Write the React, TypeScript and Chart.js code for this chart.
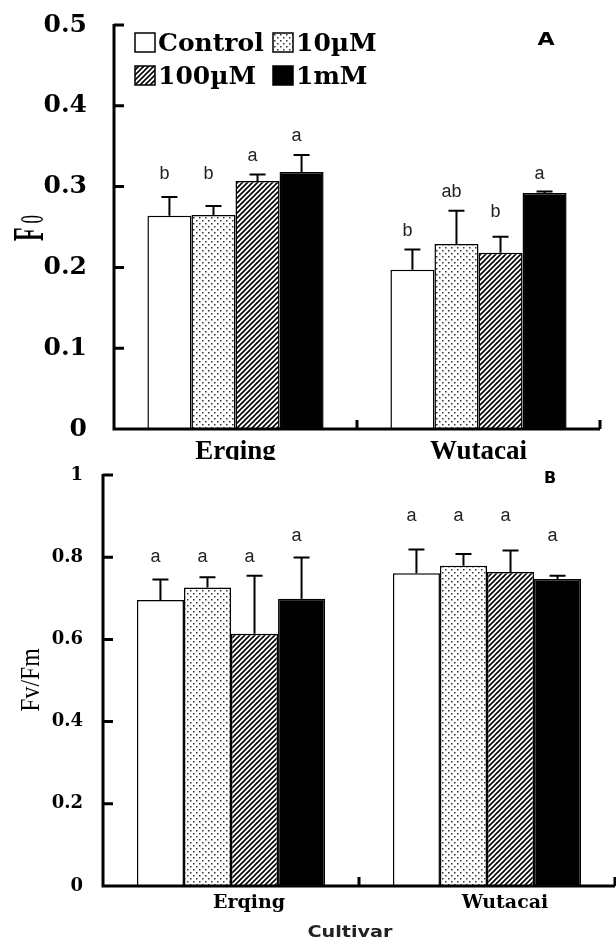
import React, { useEffect, useRef } from 'react';
import { Chart, registerables } from 'chart.js';

Chart.register(...registerables);

// ---------- data ----------
const cultivars = ['Erqing', 'Wutacai'];
const treatments = ['Control', '10µM', '100µM', '1mM'];

// Panel A: F0
const foControl = [0.264, 0.197];
const fo10uM = [0.265, 0.229];
const fo100uM = [0.307, 0.218];
const fo1mM = [0.318, 0.292];
const foErrControl = [0.023, 0.025];
const foErr10uM = [0.011, 0.041];
const foErr100uM = [0.008, 0.02];
const foErr1mM = [0.021, 0.002];
const foLetControl = ['b', 'b'];
const foLet10uM = ['b', 'ab'];
const foLet100uM = ['a', 'b'];
const foLet1mM = ['a', 'a'];
const foLetAtControl = [0.309, 0.239];
const foLetAt10uM = [0.309, 0.287];
const foLetAt100uM = [0.332, 0.262];
const foLetAt1mM = [0.356, 0.309];
const foTicks = ['0', '0.1', '0.2', '0.3', '0.4', '0.5'];

// Panel B: Fv/Fm
const fvControl = [0.696, 0.761];
const fv10uM = [0.726, 0.779];
const fv100uM = [0.614, 0.764];
const fv1mM = [0.699, 0.747];
const fvErrControl = [0.05, 0.058];
const fvErr10uM = [0.025, 0.029];
const fvErr100uM = [0.141, 0.052];
const fvErr1mM = [0.1, 0.008];
const fvLetControl = ['a', 'a'];
const fvLet10uM = ['a', 'a'];
const fvLet100uM = ['a', 'a'];
const fvLet1mM = ['a', 'a'];
const fvLetAtControl = [0.789, 0.889];
const fvLetAt10uM = [0.789, 0.889];
const fvLetAt100uM = [0.789, 0.889];
const fvLetAt1mM = [0.84, 0.84];
const fvTicks = ['0', '0.2', '0.4', '0.6', '0.8', '1'];

// ---------- helpers ----------
function makeDots(): CanvasPattern {
  const c = document.createElement('canvas');
  c.width = 6;
  c.height = 6;
  const g = c.getContext('2d')!;
  g.fillStyle = '#fff';
  g.fillRect(0, 0, 6, 6);
  g.fillStyle = '#333';
  g.fillRect(1, 1, 1.5, 1.5);
  g.fillRect(4, 4, 1.5, 1.5);
  return g.createPattern(c, 'repeat')!;
}

function makeHatch(): CanvasPattern {
  const c = document.createElement('canvas');
  c.width = 5;
  c.height = 5;
  const g = c.getContext('2d')!;
  g.fillStyle = '#fff';
  g.fillRect(0, 0, 5, 5);
  g.strokeStyle = '#000';
  g.lineWidth = 1.6;
  g.beginPath();
  g.moveTo(0, 5);
  g.lineTo(5, 0);
  g.moveTo(-1, 1);
  g.lineTo(1, -1);
  g.moveTo(4, 6);
  g.lineTo(6, 4);
  g.stroke();
  return g.createPattern(c, 'repeat')!;
}

function drawText(
  ctx: CanvasRenderingContext2D,
  s: string,
  x: number,
  y: number,
  font: string,
  align: CanvasTextAlign = 'left',
  sx = 1,
  rot = 0,
  color = '#000'
) {
  ctx.save();
  ctx.translate(x, y);
  if (rot) ctx.rotate(rot);
  ctx.scale(sx, 1);
  ctx.font = font;
  ctx.fillStyle = color;
  ctx.textAlign = align;
  ctx.textBaseline = 'alphabetic';
  ctx.fillText(s, 0, 0);
  ctx.restore();
}

function noPad(s: any) {
  s.paddingTop = 0;
  s.paddingBottom = 0;
  s.paddingLeft = 0;
  s.paddingRight = 0;
}

const barDecor = {
  id: 'barDecor',
  afterDatasetsDraw(chart: any) {
    const ctx: CanvasRenderingContext2D = chart.ctx;
    const xs = chart.scales.x;
    const ys = chart.scales.y;
    const area = chart.chartArea;
    const letterFont = '18px "Liberation Sans"';
    chart.data.datasets.forEach((ds: any, d: number) => {
      const meta = chart.getDatasetMeta(d);
      meta.data.forEach((el: any, i: number) => {
        const v = ds.data[i];
        const e = ds.errors[i];
        const yTop = ys.getPixelForValue(v + e);
        ctx.save();
        ctx.strokeStyle = '#000';
        ctx.lineWidth = 2;
        ctx.beginPath();
        ctx.moveTo(el.x, el.y);
        ctx.lineTo(el.x, yTop);
        ctx.moveTo(el.x - 8, yTop);
        ctx.lineTo(el.x + 8, yTop);
        ctx.stroke();
        ctx.restore();
        drawText(ctx, ds.letters[i], el.x - 5, ys.getPixelForValue(ds.letterAt[i]), letterFont, 'center', 1, 0, '#222');
      });
    });
    // axes
    ctx.save();
    ctx.strokeStyle = '#000';
    ctx.lineWidth = 3;
    ctx.beginPath();
    const yMaxPx = ys.getPixelForValue(ys.max);
    ctx.moveTo(area.left, yMaxPx - 1);
    ctx.lineTo(area.left, area.bottom);
    ctx.lineTo(area.right, area.bottom);
    ys.ticks.forEach((t: any) => {
      const py = ys.getPixelForValue(t.value);
      if (t.value === 0) return;
      ctx.moveTo(area.left, py);
      ctx.lineTo(area.left + 10, py);
    });
    const n = xs.ticks.length;
    for (let i = 0; i < n; i++) {
      const bx = i < n - 1 ? (xs.getPixelForTick(i) + xs.getPixelForTick(i + 1)) / 2 : area.right;
      ctx.moveTo(bx, area.bottom);
      ctx.lineTo(bx, area.bottom - 9);
    }
    ctx.stroke();
    ctx.restore();
  },
};

function makeDatasets(
  vals: number[][],
  errs: number[][],
  lets: string[][],
  letAt: number[][],
  fills: (string | CanvasPattern)[]
) {
  return treatments.map((t, k) => ({
    label: t,
    data: vals[k],
    errors: errs[k],
    letters: lets[k],
    letterAt: letAt[k],
    backgroundColor: fills[k],
    borderColor: '#000',
    borderWidth: 1.5,
  }));
}

export default function App() {
  const refA = useRef<HTMLCanvasElement>(null);
  const refB = useRef<HTMLCanvasElement>(null);

  useEffect(() => {
    const dots = makeDots();
    const hatch = makeHatch();
    const fills = ['#fff', dots, hatch, '#000'];

    const legendA = {
      id: 'legendA',
      afterDraw(chart: any) {
        const ctx: CanvasRenderingContext2D = chart.ctx;
        const pos = [
          [135, 33],
          [273, 33],
          [135, 66],
          [273, 66],
        ];
        treatments.forEach((t, k) => {
          const [bx, by] = pos[k];
          ctx.save();
          ctx.fillStyle = fills[k] as any;
          ctx.fillRect(bx, by, 20, 19);
          ctx.strokeStyle = '#000';
          ctx.lineWidth = 1.5;
          ctx.strokeRect(bx, by, 20, 19);
          ctx.restore();
          drawText(ctx, t, bx + 23, by + 18, 'bold 25px "DejaVu Serif"');
        });
        drawText(ctx, 'A', 546, 45, 'bold 17px "DejaVu Sans"', 'center', 1.3);
        // y title "F0"
        ctx.save();
        ctx.translate(43, 241);
        ctx.rotate(-Math.PI / 2);
        ctx.scale(0.5, 1);
        ctx.fillStyle = '#000';
        ctx.textBaseline = 'alphabetic';
        ctx.font = 'bold 44px "Liberation Serif"';
        ctx.fillText('F', 0, 0);
        const w = ctx.measureText('F').width;
        ctx.font = '34px "Liberation Serif"';
        ctx.fillText('0', w + 8, 0);
        ctx.restore();
      },
    };

    const decorB = {
      id: 'decorB',
      afterDraw(chart: any) {
        const ctx: CanvasRenderingContext2D = chart.ctx;
        drawText(ctx, 'B', 550, 23, 'bold 16px "DejaVu Sans"', 'center');
        drawText(ctx, 'Fv/Fm', 39, 220, '28px "Liberation Serif"', 'center', 0.85, -Math.PI / 2);
        const cx = (chart.chartArea.left + chart.chartArea.right) / 2 - 9;
        drawText(ctx, 'Cultivar', cx, 477, 'bold 16px "DejaVu Sans"', 'center', 1.2, 0, '#222');
      },
    };

    const chartA = new Chart(refA.current!, {
      type: 'bar',
      data: {
        labels: cultivars,
        datasets: makeDatasets(
          [foControl, fo10uM, fo100uM, fo1mM],
          [foErrControl, foErr10uM, foErr100uM, foErr1mM],
          [foLetControl, foLet10uM, foLet100uM, foLet1mM],
          [foLetAtControl, foLetAt10uM, foLetAt100uM, foLetAt1mM],
          fills
        ) as any,
      },
      options: {
        responsive: false,
        animation: false,
        layout: { padding: { left: 0, right: 16, top: 25, bottom: 0 } },
        datasets: { bar: { categoryPercentage: 0.725, barPercentage: 1 } },
        plugins: { legend: { display: false }, tooltip: { enabled: false } },
        scales: {
          x: {
            type: 'category',
            offset: true,
            grid: { display: false, drawTicks: false },
            border: { display: false },
            ticks: {
              color: '#000',
              font: { family: '"Liberation Serif"', size: 27, weight: 'bold' },
              padding: 7,
              maxRotation: 0,
              autoSkip: false,
            },
            afterFit: (s: any) => {
              s.height = 31;
              noPad(s);
            },
          },
          y: {
            min: 0,
            max: 0.5,
            grid: { display: false, drawTicks: false },
            border: { display: false },
            ticks: {
              stepSize: 0.1,
              color: '#000',
              font: { family: '"DejaVu Serif"', size: 25, weight: 'bold' },
              padding: 27,
              callback: (_v: any, i: number) => foTicks[i],
            },
            afterFit: (s: any) => {
              s.width = 114;
              noPad(s);
            },
          },
        },
      } as any,
      plugins: [barDecor, legendA],
    });

    const chartB = new Chart(refB.current!, {
      type: 'bar',
      data: {
        labels: cultivars,
        datasets: makeDatasets(
          [fvControl, fv10uM, fv100uM, fv1mM],
          [fvErrControl, fvErr10uM, fvErr100uM, fvErr1mM],
          [fvLetControl, fvLet10uM, fvLet100uM, fvLet1mM],
          [fvLetAtControl, fvLetAt10uM, fvLetAt100uM, fvLetAt1mM],
          fills
        ) as any,
      },
      options: {
        responsive: false,
        animation: false,
        layout: { padding: { left: 0, right: 1, top: 15, bottom: 0 } },
        datasets: { bar: { categoryPercentage: 0.735, barPercentage: 1 } },
        plugins: { legend: { display: false }, tooltip: { enabled: false } },
        scales: {
          x: {
            type: 'category',
            offset: true,
            grid: { display: false, drawTicks: false },
            border: { display: false },
            ticks: {
              color: '#000',
              font: { family: '"DejaVu Serif"', size: 19, weight: 'bold' },
              padding: 6,
              labelOffset: 18,
              maxRotation: 0,
              autoSkip: false,
            },
            afterFit: (s: any) => {
              s.height = 53;
              noPad(s);
            },
          },
          y: {
            min: 0,
            max: 1,
            grid: { display: false, drawTicks: false },
            border: { display: false },
            ticks: {
              stepSize: 0.2,
              color: '#000',
              font: { family: '"DejaVu Serif"', size: 18, weight: 'bold' },
              padding: 20,
              callback: (_v: any, i: number) => fvTicks[i],
            },
            afterFit: (s: any) => {
              s.width = 103;
              noPad(s);
            },
          },
        },
      } as any,
      plugins: [barDecor, decorB],
    });

    return () => {
      chartA.destroy();
      chartB.destroy();
    };
  }, []);

  return (
    <div
      style={{
        position: 'absolute',
        left: 0,
        top: 0,
        width: 616,
        height: 939,
        background: '#fff',
        overflow: 'hidden',
      }}
    >
      <canvas
        ref={refA}
        width={616}
        height={460}
        style={{ position: 'absolute', left: 0, top: 0, width: 616, height: 460 }}
      />
      <canvas
        ref={refB}
        width={616}
        height={479}
        style={{ position: 'absolute', left: 0, top: 460, width: 616, height: 479 }}
      />
    </div>
  );
}
